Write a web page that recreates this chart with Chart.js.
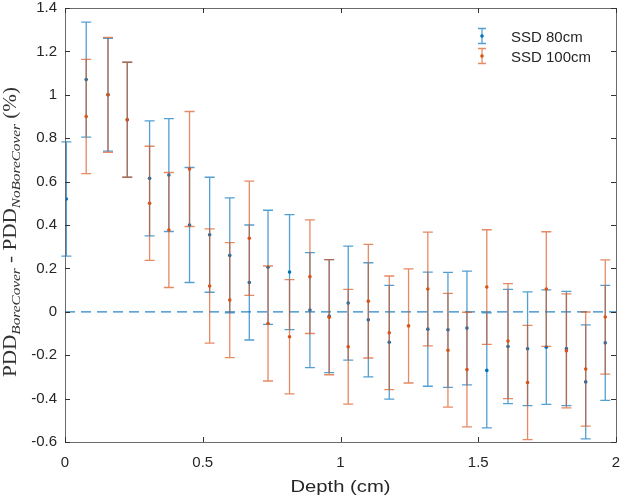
<!DOCTYPE html>
<html>
<head>
<meta charset="utf-8">
<script src="https://cdn.jsdelivr.net/npm/chart.js@4.4.0/dist/chart.umd.min.js"></script>
<style>
html, body { margin: 0; padding: 0; background: #fff; }
</style>
</head>
<body>
<canvas id="chart" width="622" height="498"></canvas>
<script>
const depth = [0.005, 0.077, 0.156, 0.226, 0.307, 0.377, 0.452, 0.525, 0.598, 0.669, 0.737, 0.815, 0.889, 0.959,
	1.028, 1.101, 1.177, 1.247, 1.317, 1.390, 1.459, 1.531, 1.608, 1.679, 1.747, 1.820, 1.890, 1.961];

const ssd80 = [0.52, 1.07, 1.00, 0.885, 0.615, 0.63, 0.40, 0.355, 0.26, 0.135, 0.205, 0.183, 0.008, -0.02,
	0.04, -0.037, -0.14, null, -0.08, -0.083, -0.075, -0.27, -0.16, -0.17, -0.163, -0.169, -0.323, -0.143];
const ssd80Err = [0.263, 0.265, 0.26, 0.265, 0.265, 0.26, 0.265, 0.265, 0.265, 0.265, 0.263, 0.265, 0.265, 0.26,
	0.263, 0.263, 0.262, null, 0.263, 0.265, 0.262, 0.265, 0.263, 0.262, 0.264, 0.263, 0.263, 0.265];

const ssd100 = [null, 0.90, 1.00, 0.885, 0.50, 0.377, 0.658, 0.119, 0.054, 0.339, -0.054, -0.115, 0.162, -0.025,
	-0.161, 0.049, -0.097, -0.065, 0.105, -0.177, -0.266, 0.114, -0.135, -0.326, 0.105, -0.18, -0.264, -0.024];
const ssd100Err = [null, 0.263, 0.265, 0.265, 0.263, 0.265, 0.265, 0.263, 0.265, 0.263, 0.265, 0.263, 0.262, 0.265,
	0.264, 0.262, 0.262, 0.263, 0.262, 0.262, 0.264, 0.264, 0.265, 0.263, 0.264, 0.263, 0.263, 0.263];

const zeroLineX = [0, 2];
const zeroLineY = [0, 0];

const xTicks = [0, 0.5, 1, 1.5, 2];
const yTicks = [-0.6, -0.4, -0.2, 0, 0.2, 0.4, 0.6, 0.8, 1, 1.2, 1.4];

const seriesNames = ['SSD 80cm', 'SSD 100cm'];
const xTitle = 'Depth (cm)';
const blue = '#0072BD';
const orange = '#D95319';
const blueBar = 'rgba(0,114,189,0.68)';
const orangeBar = 'rgba(217,83,25,0.68)';
const sans = '"Liberation Sans", Arial, sans-serif';

function points(vals) {
	return depth.map((d, i) => ({ x: d, y: vals[i] })).filter(p => p.y !== null);
}
function errs(vals, e) {
	return depth.map((d, i) => e[i]).filter((v, i) => vals[i] !== null);
}
function fmt(v) {
	return String(Number(v.toFixed(2)));
}

// error bars go under the markers of each set
const errorBars = {
	id: 'errorBars',
	beforeDatasetDraw(chart, args) {
		const ds = chart.data.datasets[args.index];
		if (!ds.errors) return;
		const xs = chart.scales.x, ys = chart.scales.y, ctx = chart.ctx;
		ctx.save();
		ctx.strokeStyle = ds.barColor;
		ctx.lineWidth = 1.3;
		ds.data.forEach((p, i) => {
			const px = xs.getPixelForValue(p.x);
			const top = ys.getPixelForValue(p.y + ds.errors[i]);
			const bot = ys.getPixelForValue(p.y - ds.errors[i]);
			ctx.beginPath();
			ctx.moveTo(px, top); ctx.lineTo(px, bot);
			ctx.moveTo(px - 5, top); ctx.lineTo(px + 5, top);
			ctx.moveTo(px - 5, bot); ctx.lineTo(px + 5, bot);
			ctx.stroke();
		});
		ctx.restore();
	}
};

// box round the plot with inward ticks, legend and axis titles
const frame = {
	id: 'frame',
	afterDraw(chart) {
		const ctx = chart.ctx, a = chart.chartArea;
		const xs = chart.scales.x, ys = chart.scales.y;
		ctx.save();
		ctx.strokeStyle = '#6b6b6b';
		ctx.lineWidth = 1;
		ctx.strokeRect(Math.round(a.left) + 0.5, Math.round(a.top) + 0.5,
			Math.round(a.right - a.left), Math.round(a.bottom - a.top));
		ctx.strokeStyle = '#333';
		ctx.beginPath();
		xTicks.forEach(v => {
			const px = Math.round(xs.getPixelForValue(v)) + 0.5;
			ctx.moveTo(px, a.bottom); ctx.lineTo(px, a.bottom - 5);
			ctx.moveTo(px, a.top); ctx.lineTo(px, a.top + 5);
		});
		yTicks.forEach(v => {
			const py = Math.round(ys.getPixelForValue(v)) + 0.5;
			ctx.moveTo(a.left, py); ctx.lineTo(a.left + 5, py);
			ctx.moveTo(a.right, py); ctx.lineTo(a.right - 5, py);
		});
		ctx.stroke();

		// legend
		const items = [[blue, blueBar, 36], [orange, orangeBar, 56]];
		items.forEach((it, i) => {
			const lx = 482, ly = it[2];
			ctx.strokeStyle = it[1];
			ctx.lineWidth = 1.3;
			ctx.beginPath();
			ctx.moveTo(lx, ly - 7.5); ctx.lineTo(lx, ly + 7.5);
			ctx.moveTo(lx - 4, ly - 7.5); ctx.lineTo(lx + 4, ly - 7.5);
			ctx.moveTo(lx - 4, ly + 7.5); ctx.lineTo(lx + 4, ly + 7.5);
			ctx.stroke();
			ctx.fillStyle = it[0];
			ctx.beginPath();
			ctx.arc(lx, ly, 1.8, 0, Math.PI * 2);
			ctx.fill();
			ctx.fillStyle = '#262626';
			ctx.font = '15px ' + sans;
			ctx.textBaseline = 'middle';
			ctx.textAlign = 'left';
			ctx.fillText(seriesNames[i], 511, ly + 1.5);
		});

		// x title, a little wide like the original
		ctx.save();
		ctx.font = '17px ' + sans;
		const xw = ctx.measureText(xTitle).width;
		ctx.translate((a.left + a.right) / 2, 487);
		ctx.scale(100 / xw, 1);
		ctx.fillStyle = '#262626';
		ctx.textAlign = 'center';
		ctx.textBaseline = 'middle';
		ctx.fillText(xTitle, 0, 0);
		ctx.restore();

		// y title with subscripts
		const parts = [['PDD', 0], ['BoreCover', 1], [' - PDD', 0], ['NoBoreCover', 1], [' (%)', 0]];
		const mainFont = '18px "Liberation Serif", "Times New Roman", serif';
		const subFont = 'italic 13px "Liberation Serif", "Times New Roman", serif';
		let w = 0;
		parts.forEach(p => { ctx.font = p[1] ? subFont : mainFont; w += ctx.measureText(p[0]).width; });
		const k = 290 / w;
		ctx.translate(16, 232);
		ctx.rotate(-Math.PI / 2);
		ctx.scale(k, 1);
		ctx.fillStyle = '#333';
		ctx.textBaseline = 'alphabetic';
		let cx = -w / 2;
		parts.forEach(p => {
			ctx.font = p[1] ? subFont : mainFont;
			ctx.fillText(p[0], cx, p[1] ? 4 : 0);
			cx += ctx.measureText(p[0]).width;
		});
		ctx.restore();
	}
};

new Chart(document.getElementById('chart'), {
	type: 'scatter',
	data: {
		datasets: [
			{
				label: seriesNames[0],
				data: points(ssd80),
				errors: errs(ssd80, ssd80Err),
				barColor: blueBar,
				backgroundColor: blue,
				pointRadius: 1.8,
				pointBorderWidth: 0,
				order: 2
			},
			{
				label: seriesNames[1],
				data: points(ssd100),
				errors: errs(ssd100, ssd100Err),
				barColor: orangeBar,
				backgroundColor: orange,
				pointRadius: 1.8,
				pointBorderWidth: 0,
				order: 1
			},
			{
				type: 'line',
				data: zeroLineX.map((x, i) => ({ x: x, y: zeroLineY[i] })),
				borderColor: 'rgba(0,114,189,0.85)',
				borderWidth: 1.2,
				borderDash: [10, 6],
				pointRadius: 0,
				order: 3
			}
		]
	},
	options: {
		responsive: false,
		animation: false,
		devicePixelRatio: 1,
		layout: { padding: { top: 8, right: 6, left: 0, bottom: 0 } },
		plugins: { legend: { display: false }, tooltip: { enabled: false } },
		scales: {
			x: {
				type: 'linear',
				min: 0, max: 2,
				afterBuildTicks: s => { s.ticks = xTicks.map(v => ({ value: v })); },
				afterFit: s => { s.height = 56; s.paddingLeft = 0; s.paddingRight = 0; },
				grid: { display: false, drawTicks: false },
				border: { display: false },
				ticks: { padding: 12, color: '#262626', font: { family: sans, size: 15 }, maxRotation: 0, callback: fmt }
			},
			y: {
				type: 'linear',
				min: -0.6, max: 1.4,
				afterBuildTicks: s => { s.ticks = yTicks.map(v => ({ value: v })); },
				afterFit: s => { s.width = 65; s.paddingTop = 0; s.paddingBottom = 0; },
				grid: { display: false, drawTicks: false },
				border: { display: false },
				ticks: { padding: 8, color: '#262626', font: { family: sans, size: 15 }, callback: fmt }
			}
		}
	},
	plugins: [errorBars, frame]
});
</script>
</body>
</html>
